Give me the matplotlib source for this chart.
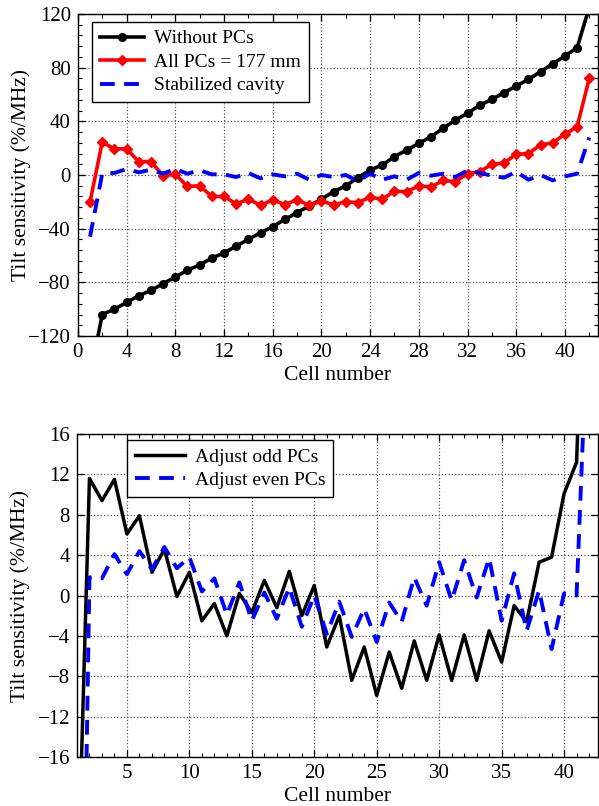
import numpy as np
import matplotlib
matplotlib.use("Agg")
import matplotlib.pyplot as plt
from matplotlib.ticker import MultipleLocator

plt.rcParams['font.family'] = ['Liberation Serif', 'DejaVu Serif']

cells = np.arange(1, 43)

# top panel: tilt sensitivity (%/MHz)
without_pcs = [-150, -104, -100, -95, -90, -86, -81, -76, -71, -67, -62, -58, -53, -48,
               -43, -38.5, -33, -28, -23, -18, -12.4, -8, -2, 3.7, 7.5, 13.7, 18.6, 23.6,
               28.6, 34.8, 41, 46, 52, 56.4, 61.4, 66.3, 71.3, 77, 83, 88.7, 94.9, 125]
all_pcs = [-20, 24.5, 19.5, 19.5, 10, 10, -0.5, 0.5, -8.5, -8, -16, -16, -21.5, -18,
           -22.5, -18.5, -22, -18.5, -22.5, -19.5, -22, -20, -20.5, -16.5, -18, -12, -12.5,
           -8, -9, -4, -5, 1, 2.5, 8, 9, 15.5, 16, 22.5, 24, 30.5, 36, 72]
stabilized = [-46, 1, 1.5, 4.5, 2, 4, 1, 4.5, 1, 3.5, 0.5, 0.5, -1.5, 1.5, -2.5, 0.5, -1,
              1, -3.5, 0, -1.5, 0, -4.5, 1, -3.5, -1, -3.5, 1.5, -0.5, 1, -1.5, 3.5, 1.5,
              -0.5, -2, 2.5, -3.5, 0, -4, -1, 1, 28]

# bottom panel
adjust_odd = [-32, 11.6, 9.4, 11.5, 6.1, 7.9, 2.3, 4.6, -0.1, 2.3, -2.5, -0.8, -4.0, 0.2,
              -1.7, 1.5, -1.2, 2.4, -2.0, 1.0, -5.1, -2.0, -8.4, -5.1, -9.9, -5.6, -9.2,
              -4.5, -8.4, -3.9, -8.4, -3.9, -8.4, -3.5, -6.6, -1.0, -2.6, 3.3, 3.8, 10.1,
              13.2, 47]
adjust_even = [-75, 1.8, 1.7, 4.1, 2.1, 4.4, 2.6, 4.8, 2.7, 3.8, 0.4, 1.7, -1.9, 1.3, -2.5,
               0.3, -2.3, 0.8, -3.1, 0.0, -3.8, -0.6, -4.1, -1.3, -4.6, -0.7, -2.6, 1.8,
               -1.0, 3.3, -0.5, 3.5, -0.2, 3.7, -2.5, 2.2, -3.5, 0.5, -5.3, 0.2, 0.0, 31]

TICK_FS = 15
LABEL_FS = 15.5
LEG_FS = 14


def style_axes(ax):
    ax.grid(True, which='major', linestyle=':', color='#555555', linewidth=0.9)
    ax.tick_params(which='both', direction='in', top=True, right=True, labelsize=TICK_FS)
    ax.tick_params(which='major', length=5, width=0.9, pad=5)
    ax.tick_params(which='minor', length=3, width=0.8)
    for s in ax.spines.values():
        s.set_linewidth(1.0)
    ax.set_xlabel('Cell number', fontsize=LABEL_FS, labelpad=3)
    ax.set_ylabel('Tilt sensitivity (%/MHz)', fontsize=LABEL_FS)
    ax.yaxis.set_label_coords(-0.09, 0.5)


fig = plt.figure(figsize=(5.99, 8.06), dpi=100)

# top chart
ax1 = fig.add_axes([0.130, 0.5831, 0.868, 0.3995])
ax1.plot(cells, without_pcs, color='black', lw=2.6, marker='o', ms=5.5, label='Without PCs')
ax1.plot(cells, all_pcs, color='red', lw=2.6, marker='D', ms=5, label='All PCs = 177 mm')
ax1.plot(cells, stabilized, color='blue', lw=2.8, dashes=(3.8, 2.4), label='Stabilized cavity')
ax1.set_xlim(0, 42.7)
ax1.set_ylim(-120, 120)
ax1.xaxis.set_major_locator(MultipleLocator(4))
ax1.xaxis.set_minor_locator(MultipleLocator(2))
ax1.yaxis.set_major_locator(MultipleLocator(40))
ax1.yaxis.set_minor_locator(MultipleLocator(8))
style_axes(ax1)
leg1 = ax1.legend(loc='upper left', bbox_to_anchor=(0.027, 0.975), borderaxespad=0,
                  fontsize=LEG_FS, fancybox=False, framealpha=1, edgecolor='black',
                  handlelength=2.3, borderpad=0.4, labelspacing=0.3, handletextpad=0.5)
leg1.get_frame().set_linewidth(1.0)

# bottom chart
ax2 = fig.add_axes([0.1285, 0.0608, 0.8695, 0.4007])
ax2.plot(cells, adjust_odd, color='black', lw=2.5, label='Adjust odd PCs')
ax2.plot(cells, adjust_even, color='blue', lw=2.8, dashes=(3.8, 2.4), label='Adjust even PCs')
ax2.set_xlim(1, 42.7)
ax2.set_ylim(-16, 16)
ax2.xaxis.set_major_locator(MultipleLocator(5))
ax2.xaxis.set_minor_locator(MultipleLocator(1))
ax2.yaxis.set_major_locator(MultipleLocator(4))
style_axes(ax2)
leg2 = ax2.legend(loc='upper left', bbox_to_anchor=(0.096, 0.981), borderaxespad=0,
                  fontsize=LEG_FS, fancybox=False, framealpha=1, edgecolor='black',
                  handlelength=2.6, borderpad=0.4, labelspacing=0.3, handletextpad=0.5)
leg2.get_frame().set_linewidth(1.0)

fig.savefig('out.png', dpi=100)
